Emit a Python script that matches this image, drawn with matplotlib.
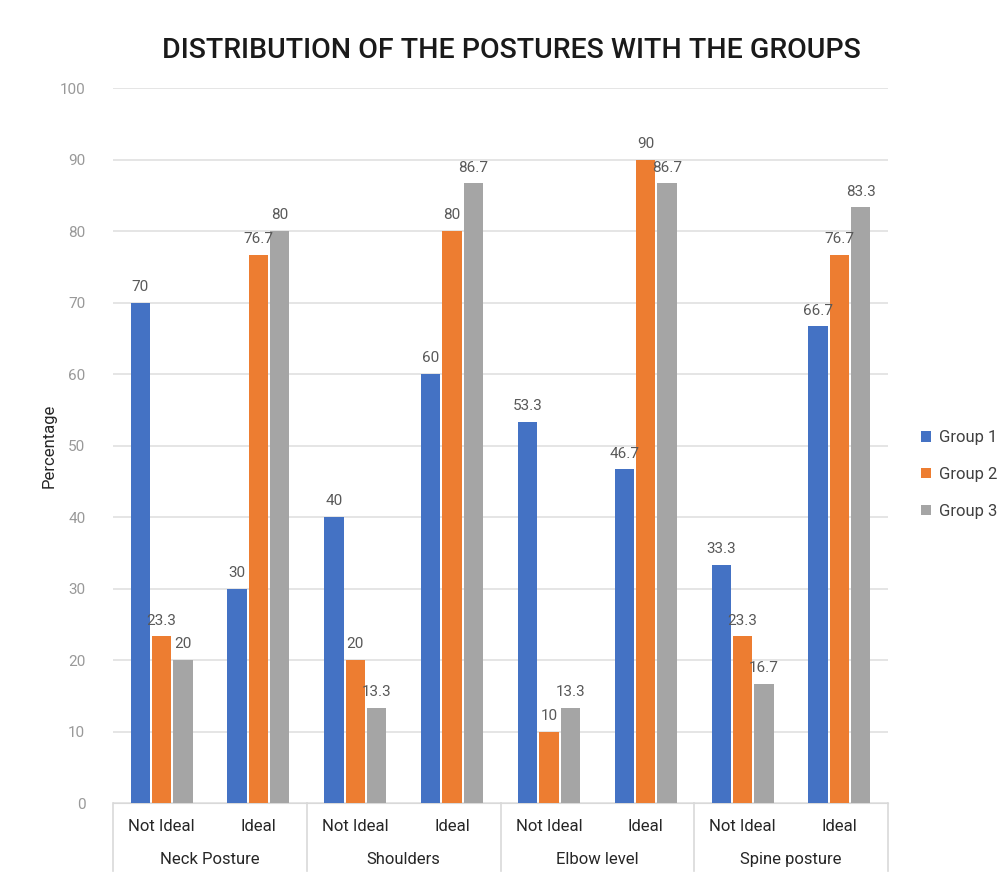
import matplotlib
matplotlib.use("Agg")
import matplotlib.pyplot as plt
import numpy as np

groups = ["Neck Posture", "Shoulders", "Elbow level", "Spine posture"]
subcats = ["Not Ideal", "Ideal"]
series_names = ["Group 1", "Group 2", "Group 3"]
group1 = [70, 30, 40, 60, 53.3, 46.7, 33.3, 66.7]
group2 = [23.3, 76.7, 20, 80, 10, 90, 23.3, 76.7]
group3 = [20, 80, 13.3, 86.7, 13.3, 86.7, 16.7, 83.3]
colors = ["#4472C4", "#ED7D31", "#A5A5A5"]

plt.rcParams['font.family'] = ['Roboto', 'DejaVu Sans']

fig = plt.figure(figsize=(10.01, 8.74), dpi=100)
ax = fig.add_axes([0.113, 0.0812, 0.774, 0.8181])

n = len(groups) * len(subcats)
x = np.arange(n)
w = 0.2
gap = 0.02
for i, (vals, name, c) in enumerate(zip([group1, group2, group3], series_names, colors)):
    pos = x + (i - 1) * (w + gap)
    ax.bar(pos, vals, width=w, color=c, label=name, zorder=3)
    for p, v in zip(pos, vals):
        lbl = f"{v:g}"
        ax.text(p, v + 1.2, lbl, ha="center", va="bottom", fontsize=11, color="#595959", zorder=4)

ax.set_xlim(-0.5, n - 0.5)
ax.set_ylim(0, 100)
ax.set_yticks(np.arange(0, 101, 10))
ax.tick_params(axis="y", length=0, colors="#999999", labelsize=11, pad=20)
ax.yaxis.grid(True, color="#e0e0e0", linewidth=1.2, zorder=0)
ax.set_axisbelow(True)
for s in ["top", "right", "left"]:
    ax.spines[s].set_visible(False)
ax.spines["bottom"].set_color("#d9d9d9")
ax.set_xticks([])

# category labels
for k in range(n):
    ax.text(k, -2.3, subcats[k % 2], ha="center", va="top", fontsize=12, color="#262626",
            transform=ax.transData, clip_on=False)
for g, gname in enumerate(groups):
    ax.text(2 * g + 0.5, -6.8, gname, ha="center", va="top", fontsize=12, color="#262626", clip_on=False)
for b in range(len(groups) + 1):
    ax.plot([2 * b - 0.5, 2 * b - 0.5], [0, -9.5], color="#d9d9d9", linewidth=1.2, clip_on=False)

ax.set_ylabel("Percentage", fontsize=12, color="#262626", labelpad=2)

fig.text(0.511, 0.942, "DISTRIBUTION OF THE POSTURES WITH THE GROUPS", ha="center", va="center",
         fontsize=20.5, color="#1a1a1a", fontweight="medium")

leg = fig.legend(loc="center left", bbox_to_anchor=(0.905, 0.457), frameon=False, fontsize=12,
                 handlelength=0.6, handleheight=0.6, handletextpad=0.5, labelspacing=1.3)
for t in leg.get_texts():
    t.set_color("#404040")

fig.savefig("out.png", dpi=100)
